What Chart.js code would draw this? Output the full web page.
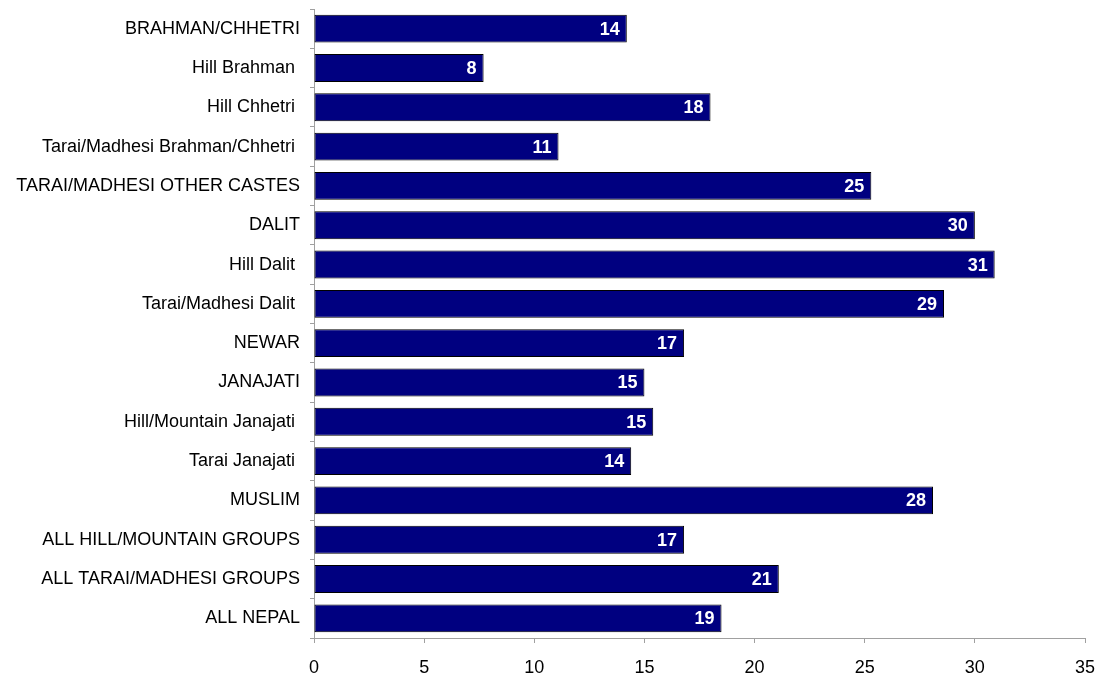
<!DOCTYPE html>
<html>
<head>
<meta charset="utf-8">
<script src="https://cdn.jsdelivr.net/npm/chart.js@4/dist/chart.umd.min.js"></script>
<style>
    html, body { margin: 0; padding: 0; background: #ffffff; }
    #wrap { width: 1101px; height: 677px; }
</style>
</head>
<body>
<div id="wrap"><canvas id="chart" width="1101" height="677"></canvas></div>
<script>

const groups = [
    "BRAHMAN/CHHETRI",
    "Hill Brahman ",
    "Hill Chhetri ",
    "Tarai/Madhesi Brahman/Chhetri ",
    "TARAI/MADHESI OTHER CASTES",
    "DALIT",
    "Hill Dalit ",
    "Tarai/Madhesi Dalit ",
    "NEWAR",
    "JANAJATI",
    "Hill/Mountain Janajati ",
    "Tarai Janajati ",
    "MUSLIM",
    "ALL HILL/MOUNTAIN GROUPS",
    "ALL TARAI/MADHESI GROUPS",
    "ALL NEPAL"
];

const shares = [14.2, 7.7, 18.0, 11.1, 25.3, 30.0, 30.9, 28.6, 16.8, 15.0, 15.4, 14.4, 28.1, 16.8, 21.1, 18.5];

const xTicks = [0, 5, 10, 15, 20, 25, 30, 35];

const FONT = "'Liberation Sans', Arial, sans-serif";

// white numbers at the inner end of each bar
const barLabels = {
    id: "barLabels",
    afterDatasetsDraw(chart) {
        const ctx = chart.ctx;
        const meta = chart.getDatasetMeta(0);
        ctx.save();
        ctx.fillStyle = "#ffffff";
        ctx.font = "bold 18px " + FONT;
        ctx.textAlign = "right";
        ctx.textBaseline = "middle";
        meta.data.forEach((bar, i) => {
            ctx.fillText(String(Math.round(shares[i])), bar.x - 7, bar.y + 1);
        });
        ctx.restore();
    }
};

const ctx = document.getElementById("chart").getContext("2d");

new Chart(ctx, {
    type: "bar",
    data: {
        labels: groups,
        datasets: [{
            data: shares,
            backgroundColor: "#000080",
            borderColor: "#000000",
            borderWidth: 1,
            borderSkipped: false,
            categoryPercentage: 0.71,
            barPercentage: 1.0
        }]
    },
    options: {
        indexAxis: "y",
        responsive: false,
        animation: false,
        layout: { padding: { top: 9, right: 16, left: 0, bottom: 0 } },
        plugins: {
            legend: { display: false },
            tooltip: { enabled: false }
        },
        scales: {
            x: {
                min: 0,
                max: 35,
                afterBuildTicks(scale) {
                    scale.ticks = xTicks.map(v => ({ value: v }));
                },
                afterFit(scale) {
                    scale.height = 39;
                    scale.paddingLeft = 0;
                    scale.paddingRight = 0;
                },
                grid: {
                    drawOnChartArea: false,
                    tickLength: 5,
                    color: "#a0a0a0"
                },
                border: { color: "#a0a0a0" },
                ticks: {
                    color: "#000000",
                    padding: 14,
                    font: { family: FONT, size: 18 }
                }
            },
            y: {
                afterFit(scale) {
                    scale.width = 314;
                    scale.paddingTop = 0;
                    scale.paddingBottom = 0;
                },
                grid: {
                    drawOnChartArea: false,
                    offset: true,
                    tickLength: 4,
                    color: "#a0a0a0"
                },
                border: { color: "#a0a0a0" },
                ticks: {
                    color: "#000000",
                    padding: 10,
                    autoSkip: false,
                    font: { family: FONT, size: 18 }
                }
            }
        }
    },
    plugins: [barLabels]
});
</script>
</body>
</html>
